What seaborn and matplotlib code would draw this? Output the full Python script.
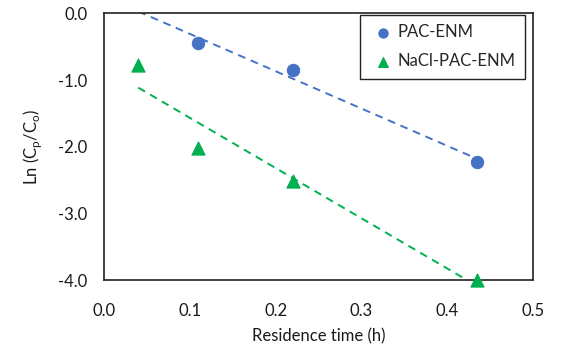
import matplotlib.pyplot as plt
import numpy as np
import seaborn as sns

# Residence time (h) and Ln(Cp/Co)
pac_time = [0.11, 0.22, 0.435]
pac_ln = [-0.45, -0.85, -2.225]

nacl_time = [0.04, 0.11, 0.22, 0.435]
nacl_ln = [-0.78, -2.02, -2.51, -4.0]

x_ticks = [0.0, 0.1, 0.2, 0.3, 0.4, 0.5]
y_ticks = [0.0, -1.0, -2.0, -3.0, -4.0]

BLUE = "#4472C4"
GREEN = "#00B050"


def trend(ax, x: np.ndarray, y: np.ndarray, span: np.ndarray, color: str):
    """
    Linear trend line of one series, drawn over the span of all residence times
    """
    slope, intercept = np.polyfit(x, y, 1)
    sns.lineplot(x=span, y=slope * span + intercept, color=color, ax=ax,
                 linestyle=(0, (4, 3)), linewidth=1.4, legend=False)


def plot_chart():
    sns.set_theme(style="white")
    plt.rcParams["font.family"] = ["Lato", "DejaVu Sans"]

    fig = plt.figure(figsize=(5.63, 3.5), dpi=100)
    ax = fig.add_axes([0.1847, 0.1991, 0.762, 0.763])

    all_time = np.array(nacl_time + pac_time)
    span = np.array([all_time.min(), all_time.max()])
    trend(ax, np.array(pac_time), np.array(pac_ln), span, BLUE)
    trend(ax, np.array(nacl_time), np.array(nacl_ln), span, GREEN)

    sns.scatterplot(x=pac_time, y=pac_ln, color=BLUE, marker="o", s=80,
                    edgecolor=BLUE, label="PAC-ENM", ax=ax, zorder=3, clip_on=False)
    sns.scatterplot(x=nacl_time, y=nacl_ln, color=GREEN, marker="^", s=90,
                    edgecolor=GREEN, label="NaCl-PAC-ENM", ax=ax, zorder=3, clip_on=False)

    ax.set_xlim(0, 0.5)
    ax.set_ylim(-4, 0)
    ax.set_xticks(x_ticks)
    ax.set_xticklabels([f"{t:.1f}" for t in x_ticks])
    ax.set_yticks(y_ticks)
    ax.set_yticklabels([f"{t:.1f}" for t in y_ticks])
    ax.tick_params(direction="in", length=4, width=0.8, color="#777777",
                   labelsize=12, labelcolor="#1a1a1a")
    ax.tick_params(axis="x", pad=16)
    ax.tick_params(axis="y", pad=12)

    for spine in ax.spines.values():
        spine.set_color("#222222")
        spine.set_linewidth(1.2)

    ax.set_xlabel("Residence time (h)", fontsize=12, color="#1a1a1a", labelpad=7)
    ax.set_ylabel("Ln (C$_\\mathregular{p}$/C$_\\mathregular{o}$)", fontsize=12,
                  color="#1a1a1a", labelpad=10)

    leg = ax.legend(loc="upper right", bbox_to_anchor=(0.981, 0.994), borderaxespad=0,
                    fontsize=12, frameon=True, fancybox=False, edgecolor="#222222",
                    handlelength=1.6, handletextpad=0.1, borderpad=0.55,
                    labelspacing=0.8, markerscale=0.75, framealpha=1)
    leg.get_frame().set_linewidth(1.0)

    fig.savefig("out.png", dpi=100, facecolor="white")


if __name__ == "__main__":
    plot_chart()
